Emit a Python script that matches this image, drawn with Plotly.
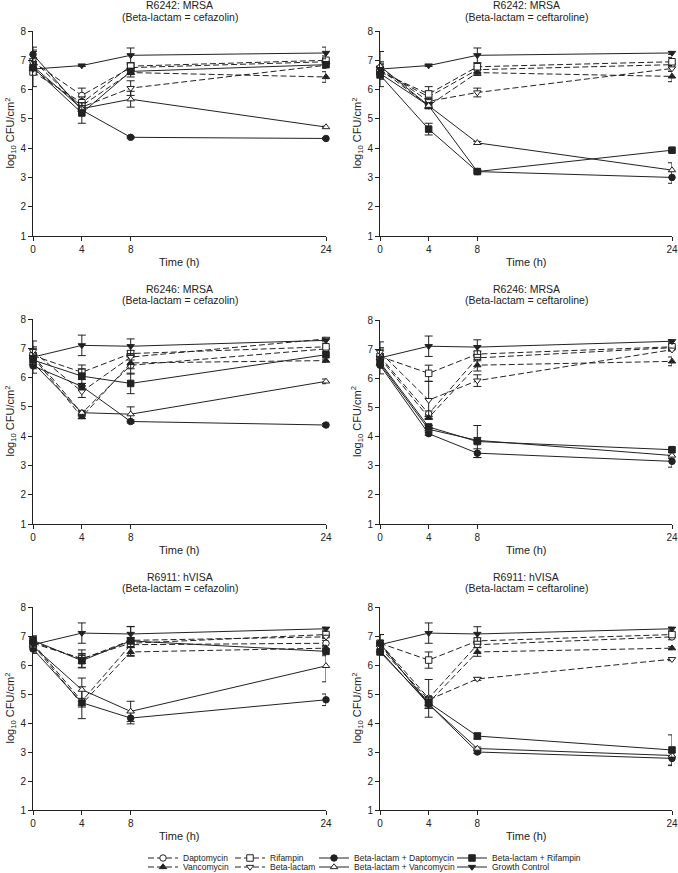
import plotly.graph_objects as go

# ---------------- data ----------------
time_h = [0, 4, 8, 24]
x_ticks = [0, 4, 8, 24]
y_ticks = [1, 2, 3, 4, 5, 6, 7, 8]

series = ["Daptomycin", "Vancomycin", "Rifampin", "Beta-lactam",
          "Beta-lactam + Daptomycin", "Beta-lactam + Vancomycin",
          "Beta-lactam + Rifampin", "Growth Control"]

panel_title_1 = ["R6242: MRSA", "R6242: MRSA", "R6246: MRSA",
                 "R6246: MRSA", "R6911: hVISA", "R6911: hVISA"]
panel_title_2 = ["(Beta-lactam = cefazolin)", "(Beta-lactam = ceftaroline)",
                 "(Beta-lactam = cefazolin)", "(Beta-lactam = ceftaroline)",
                 "(Beta-lactam = cefazolin)", "(Beta-lactam = ceftaroline)"]

# mean log10 CFU/cm2 per series (order as in `series`)
r6242_cfz = [[6.95, 5.80, 6.75, 6.95], [6.70, 5.45, 6.58, 6.43], [6.60, 5.55, 6.80, 7.00],
             [7.00, 5.40, 6.05, 6.83], [7.20, 5.30, 4.37, 4.33], [6.80, 5.35, 5.67, 4.72],
             [6.75, 5.20, 6.62, 6.85], [6.70, 6.82, 7.17, 7.25]]
r6242_cpt = [[6.65, 5.75, 6.68, 6.85], [6.70, 5.45, 6.58, 6.45], [6.60, 5.85, 6.78, 6.95],
             [6.75, 5.60, 5.90, 6.72], [6.55, 5.45, 3.20, 3.00], [6.80, 5.45, 4.18, 3.25],
             [6.50, 4.65, 3.20, 3.93], [6.70, 6.82, 7.17, 7.25]]
r6246_cfz = [[6.75, 4.78, 6.42, 6.98], [6.70, 4.65, 6.50, 6.58], [6.75, 6.18, 6.82, 7.05],
             [6.90, 5.52, 6.70, 7.32], [6.40, 5.70, 4.50, 4.38], [6.50, 4.80, 4.75, 5.87],
             [6.60, 6.05, 5.80, 6.78], [6.70, 7.10, 7.07, 7.27]]
r6246_cpt = [[6.75, 4.78, 6.70, 7.05], [6.70, 4.65, 6.45, 6.58], [6.75, 6.17, 6.83, 7.08],
             [6.90, 5.25, 5.92, 6.98], [6.45, 4.10, 3.43, 3.15], [6.50, 4.25, 3.87, 3.35],
             [6.55, 4.33, 3.83, 3.55], [6.70, 7.10, 7.07, 7.27]]
r6911_cfz = [[6.75, 4.75, 6.70, 6.75], [6.70, 4.65, 6.45, 6.58], [6.75, 6.22, 6.75, 7.05],
             [6.80, 6.20, 6.85, 6.97], [6.55, 4.70, 4.17, 4.80], [6.65, 5.15, 4.40, 5.97],
             [6.85, 6.15, 6.83, 6.47], [6.70, 7.10, 7.07, 7.25]]
r6911_cpt = [[6.75, 4.85, 6.70, 6.97], [6.70, 4.70, 6.45, 6.58], [6.75, 6.17, 6.83, 7.05],
             [6.60, 4.80, 5.52, 6.20], [6.75, 4.65, 3.00, 2.78], [6.50, 4.65, 3.12, 2.88],
             [6.45, 4.70, 3.55, 3.07], [6.70, 7.10, 7.07, 7.25]]

# standard deviations
r6242_cfz_sd = [[0.40, 0.25, 0.10, 0.10], [0.60, 0.15, 0.15, 0.18], [0.10, 0.20, 0.10, 0.15],
                [0.10, 0.15, 0.25, 0.10], [0.25, 0.05, 0.03, 0.03], [0.15, 0.10, 0.27, 0.03],
                [0.10, 0.35, 0.10, 0.10], [0.05, 0.03, 0.25, 0.20]]
r6242_cpt_sd = [[0.30, 0.20, 0.10, 0.10], [0.60, 0.10, 0.10, 0.18], [0.10, 0.25, 0.10, 0.15],
                [0.10, 0.10, 0.15, 0.10], [0.10, 0.10, 0.05, 0.20], [0.10, 0.10, 0.05, 0.25],
                [0.10, 0.20, 0.05, 0.05], [0.05, 0.03, 0.25, 0.05]]
r6246_cfz_sd = [[0.10, 0.10, 0.30, 0.10], [0.55, 0.05, 0.20, 0.05], [0.30, 0.25, 0.10, 0.10],
                [0.10, 0.20, 0.10, 0.05], [0.10, 0.10, 0.05, 0.05], [0.10, 0.05, 0.25, 0.08],
                [0.10, 0.25, 0.35, 0.05], [0.05, 0.35, 0.25, 0.05]]
r6246_cpt_sd = [[0.10, 0.10, 0.10, 0.10], [0.55, 0.05, 0.20, 0.15], [0.30, 0.28, 0.10, 0.10],
                [0.10, 0.65, 0.20, 0.05], [0.10, 0.05, 0.15, 0.20], [0.10, 0.05, 0.10, 0.10],
                [0.10, 0.05, 0.55, 0.05], [0.05, 0.35, 0.25, 0.05]]
r6911_cfz_sd = [[0.10, 0.10, 0.10, 0.10], [0.30, 0.10, 0.15, 0.10], [0.25, 0.30, 0.10, 0.10],
                [0.10, 0.15, 0.10, 0.05], [0.10, 0.55, 0.20, 0.20], [0.10, 0.40, 0.35, 0.55],
                [0.10, 0.25, 0.50, 0.15], [0.05, 0.35, 0.25, 0.05]]
r6911_cpt_sd = [[0.10, 0.65, 0.10, 0.10], [0.35, 0.10, 0.15, 0.05], [0.30, 0.28, 0.10, 0.10],
                [0.10, 0.10, 0.05, 0.05], [0.10, 0.10, 0.05, 0.25], [0.10, 0.15, 0.05, 0.10],
                [0.10, 0.20, 0.10, 0.52], [0.05, 0.35, 0.25, 0.05]]

panels = [(r6242_cfz, r6242_cfz_sd), (r6242_cpt, r6242_cpt_sd),
          (r6246_cfz, r6246_cfz_sd), (r6246_cpt, r6246_cpt_sd),
          (r6911_cfz, r6911_cfz_sd), (r6911_cpt, r6911_cpt_sd)]

# ---------------- styles ----------------
W, H = 678, 873
FONT = "Liberation Sans, Arial, sans-serif"
INK = "#222222"
DASH = "6px,3px"
styles = {
    "Daptomycin": ("circle", "white", DASH),
    "Vancomycin": ("triangle-up", INK, DASH),
    "Rifampin": ("square", "white", DASH),
    "Beta-lactam": ("triangle-down", "white", DASH),
    "Beta-lactam + Daptomycin": ("circle", INK, "solid"),
    "Beta-lactam + Vancomycin": ("triangle-up", "white", "solid"),
    "Beta-lactam + Rifampin": ("square", INK, "solid"),
    "Growth Control": ("triangle-down", INK, "solid"),
}
# legend slot: (text x px, row y px)
legend_pos = {
    "Daptomycin": (185, 858), "Rifampin": (272, 858),
    "Beta-lactam + Daptomycin": (356, 858), "Beta-lactam + Rifampin": (494, 858),
    "Vancomycin": (185, 867), "Beta-lactam": (272, 867),
    "Beta-lactam + Vancomycin": (356, 867), "Growth Control": (494, 867),
}

# panel pixel boxes: (x0, x1, ytop, ybottom, title line1 y, title line2 y)
boxes = [(33, 326, 31, 236, 5, 17), (380, 672, 31, 236, 5, 17),
         (33, 326, 319, 524, 289, 300), (380, 672, 320, 524, 289, 300),
         (33, 326, 607, 810, 577, 588), (380, 672, 607, 810, 577, 588)]

fig = go.Figure()
annotations = []
layout = dict(width=W, height=H, autosize=False,
              margin=dict(l=0, r=0, t=0, b=0, autoexpand=False),
              paper_bgcolor="white", plot_bgcolor="white",
              font=dict(family=FONT, color=INK, size=10))

for p, ((vals, sds), box) in enumerate(zip(panels, boxes)):
    idx = "" if p == 0 else str(p + 1)
    x0, x1, yt, yb, t1, t2 = box
    axis_common = dict(ticks="outside", ticklen=4, tickwidth=1, tickcolor=INK,
                       showline=True, linecolor=INK, linewidth=1, showgrid=False,
                       zeroline=False, tickfont=dict(size=10, color=INK, family=FONT))
    layout["xaxis" + idx] = dict(domain=[x0 / W, x1 / W], range=[0, 24],
                                 tickvals=x_ticks, anchor="y" + idx, **axis_common)
    layout["yaxis" + idx] = dict(domain=[1 - yb / H, 1 - yt / H], range=[1, 8],
                                 tickvals=y_ticks, anchor="x" + idx, **axis_common)
    for k, name in enumerate(series):
        sym, fill, dash = styles[name]
        lg = "legend" if k == 0 else "legend" + str(k + 1)
        fig.add_trace(go.Scatter(
            x=time_h, y=vals[k], name=name, mode="lines+markers",
            xaxis="x" + idx, yaxis="y" + idx, cliponaxis=False,
            line=dict(color=INK, width=1, dash=dash),
            marker=dict(symbol=sym, size=6.5, color=fill,
                        line=dict(color=INK, width=1)),
            error_y=dict(type="data", array=sds[k], visible=True,
                         color=INK, thickness=1, width=4),
            showlegend=(p == 0), legend=lg))
    cx = (x0 + x1) / 2 / W
    for txt, ty in ((panel_title_1[p], t1), (panel_title_2[p], t2)):
        annotations.append(dict(
            text=txt, x=cx, y=1 - ty / H, xref="paper", yref="paper",
            xanchor="center", yanchor="middle", showarrow=False,
            font=dict(size=10.5, family=FONT, color=INK)))
    annotations.append(dict(
        text="Time (h)", x=cx, y=1 - (yb + 26) / H, xref="paper", yref="paper",
        xanchor="center", yanchor="middle", showarrow=False,
        font=dict(size=11, family=FONT, color=INK)))
    annotations.append(dict(
        text="log<sub>10</sub> CFU/cm<sup>2</sup>", x=(x0 - 23) / W,
        y=1 - (yt + yb) / 2 / H, xref="paper", yref="paper",
        xanchor="center", yanchor="middle", textangle=-90, showarrow=False,
        font=dict(size=11, family=FONT, color=INK)))

layout["annotations"] = annotations

for k, name in enumerate(series):
    lg = "legend" if k == 0 else "legend" + str(k + 1)
    tx, ty = legend_pos[name]
    layout[lg] = dict(x=(tx - 42) / W, y=1 - ty / H, xanchor="left", yanchor="middle",
                      orientation="v", bgcolor="rgba(0,0,0,0)", borderwidth=0,
                      itemwidth=30, font=dict(size=8.5, family=FONT, color=INK),
                      tracegroupgap=0)

fig.update_layout(**layout)
fig.write_html("out.html", config={"displayModeBar": False},
               post_script="document.body.style.margin='0';document.body.style.overflow='hidden';")
